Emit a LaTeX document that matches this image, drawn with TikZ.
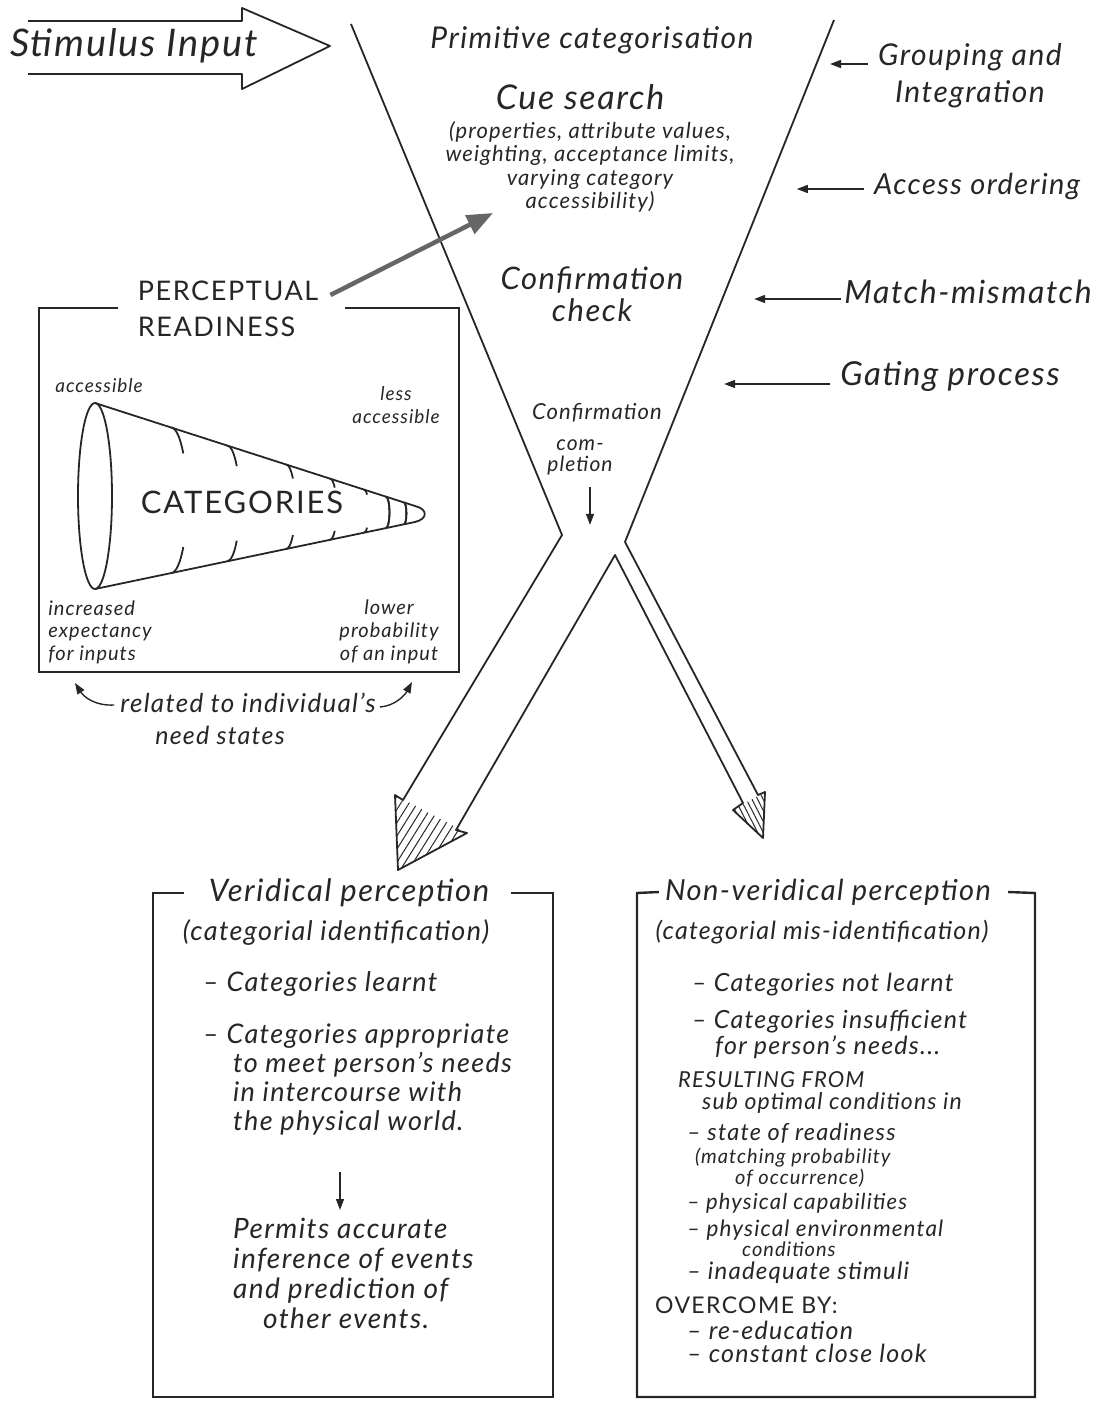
\documentclass[tikz,border=0pt]{standalone}
\usepackage{fontspec}
\setmainfont{Lato}
\newfontfamily\handfont{Lato}[LetterSpace=5,Ligatures=TeX]
\newfontfamily\capsfont{Lato}[LetterSpace=6,Ligatures=TeX]
\usetikzlibrary{arrows.meta,positioning,calc,patterns.meta}
\colorlet{ink}{black!85}

\begin{document}
\begin{tikzpicture}[x=1pt,y=-1pt,
    ln/.style={draw=ink,line width=1.8pt,line join=round},
    boxln/.style={draw=ink,line width=2.4pt},
    txt/.style={inner sep=0pt,text=ink,align=center},
    hand/.style 2 args={txt,font=\handfont\itshape\fontsize{#1}{#2}\selectfont},
    caps/.style 2 args={txt,font=\capsfont\fontsize{#1}{#2}\selectfont},
    arr/.style={draw=ink,line width=1.4pt,-{Triangle[length=11pt,width=8pt]}}]
  \useasboundingbox (0,0) rectangle (1095,1405);

  % stimulus arrow
  \node[hand={38}{40}] (stim) at (134,46) {Stimulus Input};
  \draw[ln] (28,21) -- (242,21) -- (242,8) -- (330,46) -- (242,89) -- (242,74) -- (28,74);

  % funnel and the two outgoing arrows
  \coordinate (vl) at (351,24);
  \coordinate (kl) at (562,535);
  \coordinate (apex) at (615,555);
  \coordinate (kr) at (625,542);
  \coordinate (vr) at (834,20);
  \coordinate (wl) at (403,800);  \coordinate (wbl) at (395,795);
  \coordinate (wtip) at (398,870); \coordinate (wbr) at (467,833);
  \coordinate (wr) at (456,830);
  \coordinate (tl) at (743,803);  \coordinate (tbl) at (733,810);
  \coordinate (ttip) at (763,838); \coordinate (tbr) at (765,792);
  \coordinate (tr) at (758,795);
  \fill[pattern={Lines[angle=58,distance=7pt,line width=1pt]},pattern color=ink]
    (wbl) -- (wtip) -- (wbr) -- cycle;
  \fill[pattern={Lines[angle=-63,distance=5pt,line width=1pt]},pattern color=ink]
    (tbl) -- (ttip) -- (tbr) -- cycle;
  \draw[ln] (vl) -- (kl) -- (wl) -- (wbl) -- (wtip) -- (wbr) -- (wr) -- (apex)
    -- (tl) -- (tbl) -- (ttip) -- (tbr) -- (tr) -- (kr) -- (vr);

  % stages inside the funnel
  \node[hand={30}{32}] (prim) at (592,40) {Primitive categorisation};
  \node[hand={34}{36}] (cue) at (580,97) {Cue search};
  \node[hand={22}{23.5}] (cuedet) at (590,167)
    {(properties, attribute values,\\weighting, acceptance limits,\\varying category\\accessibility)};
  \node[hand={31}{32}] (chk) at (592,294) {Confirmation\\check};
  \node[hand={22}{24}] (cc) at (597,413) {Confirmation};
  \node[hand={21}{21}] (cmp) at (580,457) {com-\\pletion};
  \draw[arr] ([xshift=10pt,yshift=-12pt]cmp.south) -- ++(0,38);

  % processes on the right
  \node[hand={30}{37}] (grp) at (970,76) {Grouping and\\Integration};
  \draw[arr] (grp.west) ++(-10,-12) -- ++(-38,0);
  \node[hand={29}{32}] (acc) at (977,186) {Access ordering};
  \draw[arr] (acc.west) ++(-10,3) -- ++(-67,0);
  \node[hand={32}{34}] (mm) at (968,292) {Match-mismatch};
  \draw[arr] (mm.west) ++(-3,7) -- ++(-87,0);
  \node[hand={33}{34}] (gate) at (950,376) {Gating process};
  \draw[arr] (gate.west) ++(-10,8) -- ++(-106,0);

  % perceptual readiness
  \node[caps={27}{36},align=left] (pr) at (228,309) {PERCEPTUAL\\READINESS};
  \coordinate (cueIn) at (493,213);
  \draw[line width=4.5pt,black!60,-{Triangle[length=26pt,width=20pt]}]
    ($(pr.east)+(12,-14)$) -- (cueIn);
  \draw[boxln] (118,308) -- (39,308) -- (39,672) -- (459,672) -- (459,308) -- (345,308);

  % cone of categories
  \draw[ln] (95,496) ellipse [x radius=17,y radius=93];
  \draw[ln] (95,403) -- (415,506) .. controls (428,509) and (428,519) .. (415,522) -- (95,589);
  \foreach \rx/\re in {171/-40,227/-40,286/-42,330/-45,364/-50,386/90,404/90}{
    \pgfmathsetmacro{\yt}{403+(\rx-95)/320*103}
    \pgfmathsetmacro{\yb}{589-(\rx-95)/320*67}
    \pgfmathsetmacro{\hh}{(\yb-\yt)/2}
    \pgfmathsetmacro{\aa}{0.22*\hh}
    \draw[ln] (\rx,\yt) arc[start angle=-90,end angle=\re,x radius=\aa,y radius=\hh];
    \draw[ln] (\rx,\yb) arc[start angle=90,end angle=-\re,x radius=\aa,y radius=\hh];
  }
  \node[caps={31}{34}] (cat) at (242,502) {CATEGORIES};
  \node[hand={19}{20}] (acc1) at (99,386) {accessible};
  \node[hand={19}{23}] (lacc) at (396,405) {less\\accessible};
  \node[hand={20}{22.5},align=left] (incr) at (100,632) {increased\\expectancy\\for inputs};
  \node[hand={20}{23}] (low) at (389,632) {lower\\probability\\of an input};

  \node[hand={26}{26}] (rel) at (248,703) {related to individual’s};
  \node[hand={25}{26}] (need) at (220,735) {need states};
  \draw[arr] ($(rel.west)+(-6,2)$) .. controls (95,706) and (84,697) .. (75,683);
  \draw[arr] ($(rel.east)+(4,4)$) .. controls (395,706) and (405,695) .. (412,682);

  % veridical perception
  \node[hand={31}{32}] (ver) at (349,893) {Veridical perception};
  \draw[boxln] ($(ver.west)+(-25,0)$) -- (153,893) -- (153,1397) -- (553,1397)
    -- (553,893) -- ($(ver.east)+(22,0)$);
  \node[hand={27}{28}] (verid) at (336,932) {(categorial identification)};
  \node[hand={27}{29},align=left,anchor=north west] (verl) at (203,971)
    {– Categories learnt\\[23pt]– Categories appropriate\\\hspace{30pt}to meet person’s needs\\\hspace{30pt}in intercourse with\\\hspace{30pt}the physical world.};
  \node[hand={28}{30},align=left,anchor=north west] (perm) at (233,1218)
    {Permits accurate\\inference of events\\and prediction of\\\hspace{30pt}other events.};
  \draw[arr] ($(perm.north west)+(107,-46)$) -- ++(0,38);

  % non-veridical perception
  \node[hand={29}{30}] (nver) at (828,892) {Non-veridical perception};
  \draw[boxln] ($(nver.west)+(-6,0)$) -- (637,893) -- (637,1397) -- (1035,1397)
    -- (1035,893) -- ($(nver.east)+(17,0)$);
  \node[hand={25}{26}] (nvid) at (822,932) {(categorial mis-identification)};
  \node[hand={25}{26},anchor=west] (nv1) at (692,985) {– Categories not learnt};
  \node[hand={25}{26},anchor=west] (nv2) at (692,1022) {– Categories insufficient};
  \node[hand={25}{26},anchor=west] (nv3) at (715,1047) {for person’s needs...};
  \node[hand={22}{22},anchor=west] (nv4) at (678,1080) {RESULTING FROM};
  \node[hand={23}{25},anchor=west] (nv5) at (702,1103) {sub optimal conditions in};
  \node[hand={23.5}{25},anchor=west] (nv6) at (687,1133) {– state of readiness};
  \node[hand={20}{21},anchor=west] (nv7) at (695,1158) {(matching probability};
  \node[hand={20}{21},anchor=west] (nv8) at (735,1178) {of occurrence)};
  \node[hand={22}{25},anchor=west] (nv9) at (687,1203) {– physical capabilities};
  \node[hand={22.5}{25},anchor=west] (nv10) at (687,1230) {– physical environmental};
  \node[hand={20}{21},anchor=west] (nv11) at (742,1249) {conditions};
  \node[hand={24}{25},anchor=west] (nv12) at (687,1273) {– inadequate stimuli};
  \node[caps={23}{25},anchor=west] (nv13) at (655,1305) {OVERCOME BY:};
  \node[hand={25}{25},anchor=west] (nv14) at (687,1330) {– re-education};
  \node[hand={25}{25},anchor=west] (nv15) at (687,1353) {– constant close look};
\end{tikzpicture}
\end{document}
